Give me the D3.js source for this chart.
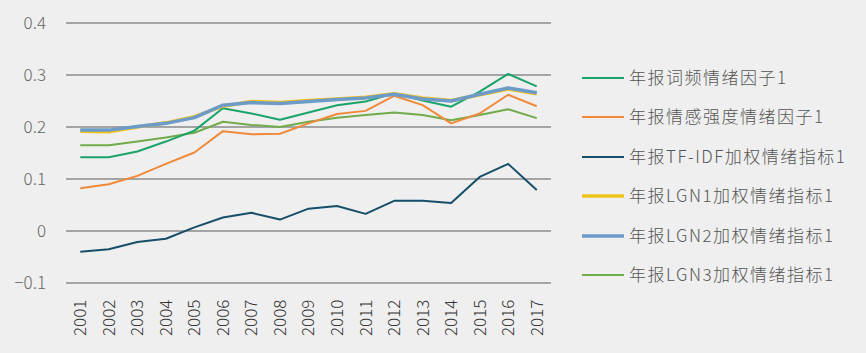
<!DOCTYPE html>
<html><head><meta charset="utf-8">
<script src="https://cdn.jsdelivr.net/npm/d3@7"></script>
<style>
html,body{margin:0;padding:0;background:#efefef;}
svg{display:block;}
text{font-family:"Noto Sans CJK SC","Noto Sans",sans-serif;font-weight:300;}
</style></head>
<body><svg id="c" width="866" height="353"></svg>
<script>
const years = ["2001","2002","2003","2004","2005","2006","2007","2008","2009","2010","2011","2012","2013","2014","2015","2016","2017"];
const yTicks = [-0.1, 0, 0.1, 0.2, 0.3, 0.4];
const seriesNames = ["年报词频情绪因子1","年报情感强度情绪因子1","年报TF-IDF加权情绪指标1","年报LGN1加权情绪指标1","年报LGN2加权情绪指标1","年报LGN3加权情绪指标1"];
const cipin   = [0.142,0.142,0.153,0.172,0.193,0.236,0.226,0.214,0.228,0.242,0.249,0.265,0.251,0.239,0.268,0.302,0.278];
const qinggan = [0.082,0.090,0.106,0.129,0.151,0.192,0.186,0.187,0.207,0.225,0.231,0.260,0.242,0.207,0.226,0.262,0.240];
const tfidf   = [-0.040,-0.035,-0.021,-0.015,0.007,0.026,0.035,0.022,0.043,0.048,0.033,0.058,0.058,0.054,0.104,0.129,0.079];
const lgn1    = [0.192,0.191,0.200,0.208,0.220,0.240,0.249,0.247,0.251,0.254,0.257,0.264,0.256,0.251,0.262,0.273,0.264];
const lgn2    = [0.194,0.194,0.201,0.207,0.218,0.242,0.247,0.245,0.249,0.253,0.256,0.263,0.254,0.250,0.263,0.275,0.266];
const lgn3    = [0.165,0.165,0.172,0.180,0.189,0.210,0.204,0.200,0.210,0.218,0.223,0.228,0.223,0.213,0.223,0.234,0.217];
const colors  = ["#1aa36a","#f0893a","#174e69","#f1c31f","#6d9bc8","#72ab4b"];
const widths  = [2,2,2,3.5,3.5,2];

const svg = d3.select("#c");
const x = d3.scaleBand().domain(years).range([66, 551]);
const y = d3.scaleLinear().domain([-0.1, 0.4]).range([283, 23]);

// grid lines
svg.append("g").selectAll("line").data(yTicks).join("line")
  .attr("x1", 66).attr("x2", 551)
  .attr("y1", d => y(d)).attr("y2", d => y(d))
  .attr("stroke", "#5a5a5a").attr("stroke-width", 1.2);

// y axis labels
const yAxis = d3.axisLeft(y).tickValues(yTicks).tickSize(0).tickPadding(0)
  .tickFormat(d => d === 0 ? "0" : d3.format(".1f")(d));
const gy = svg.append("g").attr("transform", "translate(46,0)").call(yAxis);
gy.select(".domain").remove();
gy.selectAll("text").attr("fill", "#666").style("font-size", "17px")
  .style("font-family", "'Noto Sans CJK SC','Noto Sans',sans-serif").style("font-weight", 300);

// x axis labels
const xAxis = d3.axisBottom(x).tickSize(0).tickPadding(0);
const gx = svg.append("g").attr("transform", "translate(0,298)").call(xAxis);
gx.select(".domain").remove();
gx.selectAll("text").attr("fill", "#333").style("font-size", "17px")
  .style("font-family", "'Noto Sans CJK SC','Noto Sans',sans-serif").style("font-weight", 300)
  .attr("text-anchor", "end").attr("dy", "0.35em")
  .attr("transform", "rotate(-90) translate(-38,0)")
  .attr("x", 0).attr("y", 0);
gx.selectAll("text").attr("transform", "translate(0,0) rotate(-90)").attr("x", -38).attr("y", 0).attr("dy","0.35em").attr("text-anchor","start");

const data = [cipin, qinggan, tfidf, lgn1, lgn2, lgn3];
const line = d3.line().x((d, i) => x(years[i]) + x.bandwidth() / 2).y(d => y(d));
const order = [5, 1, 2, 0, 3, 4];
svg.append("g").selectAll("path").data(order).join("path")
  .attr("d", k => line(data[k]))
  .attr("fill", "none")
  .attr("stroke", k => colors[k])
  .attr("stroke-width", k => widths[k])
  .attr("stroke-linejoin", "round");

// legend
const ly = [78, 117, 157, 196, 236, 275];
const lg = svg.append("g").selectAll("g").data(seriesNames).join("g")
  .attr("transform", (d, i) => `translate(582,${ly[i]})`);
lg.append("line").attr("x1", 0).attr("x2", 42).attr("y1", 0).attr("y2", 0)
  .attr("stroke", (d, i) => colors[i]).attr("stroke-width", (d, i) => widths[i]);
lg.append("text").attr("x", 47).attr("y", 0).attr("dy", "0.35em")
  .attr("fill", "#555").style("font-size", "17px").style("letter-spacing", "1.5px")
  .text(d => d);
</script></body></html>
